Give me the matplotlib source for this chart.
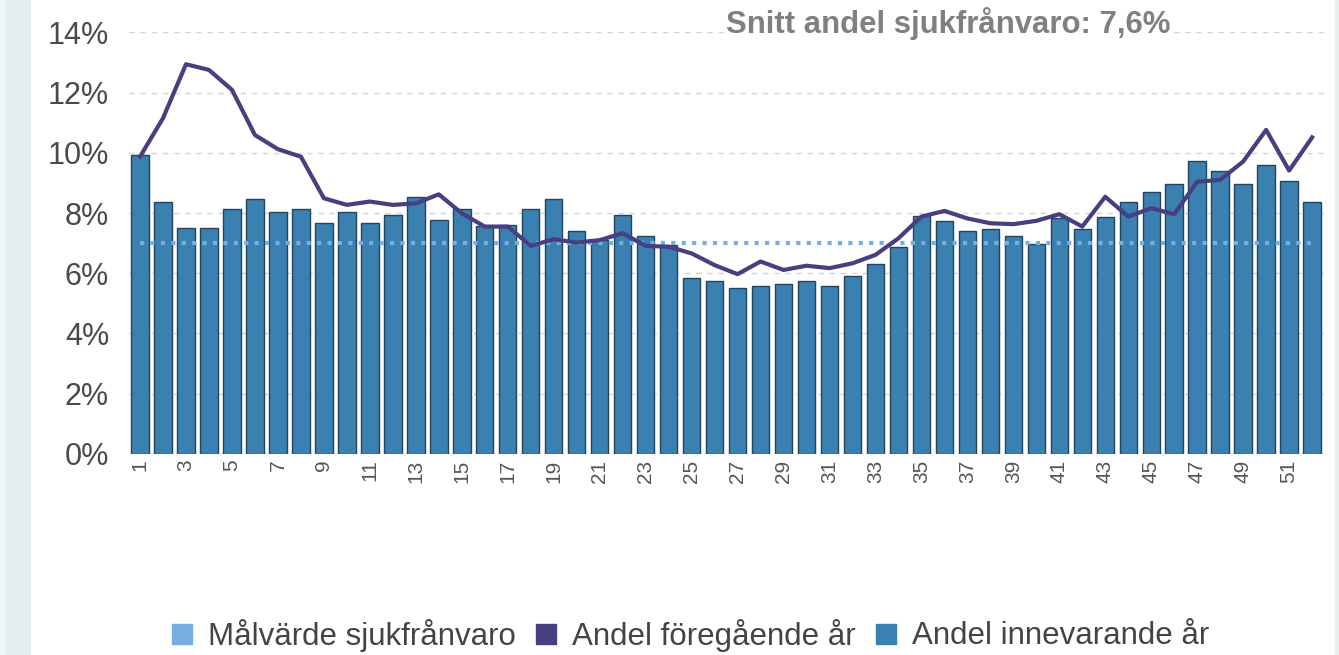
import matplotlib
matplotlib.use("Agg")
import matplotlib.pyplot as plt
from matplotlib.lines import Line2D
from matplotlib.patches import Rectangle

weeks = list(range(1, 53))
current_year = [9.93, 8.38, 7.49, 7.49, 8.12, 8.46, 8.05, 8.12, 7.68, 8.05,
                7.68, 7.94, 8.54, 7.77, 8.12, 7.57, 7.59, 8.12, 8.46, 7.41,
                7.10, 7.94, 7.24, 6.94, 5.85, 5.74, 5.50, 5.59, 5.65, 5.74,
                5.59, 5.91, 6.30, 6.88, 7.90, 7.75, 7.41, 7.48, 7.24, 6.96,
                7.82, 7.48, 7.86, 8.37, 8.71, 8.97, 9.74, 9.41, 8.97, 9.60,
                9.07, 8.37]
previous_year = [9.87, 11.15, 12.94, 12.75, 12.09, 10.59, 10.12, 9.87, 8.49, 8.27,
                 8.38, 8.27, 8.32, 8.62, 7.99, 7.55, 7.55, 6.91, 7.13, 7.02,
                 7.10, 7.33, 6.91, 6.88, 6.66, 6.27, 5.97, 6.39, 6.11, 6.25,
                 6.17, 6.33, 6.61, 7.16, 7.88, 8.07, 7.82, 7.66, 7.63, 7.74,
                 7.96, 7.55, 8.54, 7.88, 8.16, 7.96, 9.04, 9.10, 9.71, 10.76,
                 9.41, 10.51]
target = [7.0] * 52
yticks = [0, 2, 4, 6, 8, 10, 12, 14]
avg_text = "Snitt andel sjukfrånvaro: 7,6%"
legend_labels = ["Målvärde sjukfrånvaro", "Andel föregående år", "Andel innevarande år"]

c_target = "#78ade2"
c_prev = "#463f80"
c_cur = "#3a80b0"

plt.rcParams['font.family'] = ['Liberation Sans', 'DejaVu Sans']

fig = plt.figure(figsize=(13.39, 6.55), dpi=100)
fig.patch.set_facecolor("white")
# side strips of the surrounding page
fig.patches.append(Rectangle((0, 0), 6 / 1339, 1, transform=fig.transFigure, color="#eef6f6", zorder=0))
fig.patches.append(Rectangle((6 / 1339, 0), 24 / 1339, 1, transform=fig.transFigure, color="#e3eded", zorder=0))
fig.patches.append(Rectangle((1335 / 1339, 0), 4 / 1339, 1, transform=fig.transFigure, color="#e8f0f0", zorder=0))

ax = fig.add_axes([0.0960, 0.3069, 0.8925, 0.6438])
x = list(range(len(weeks)))

ax.bar(x, current_year, width=0.76, color=c_cur, edgecolor="#24445c", linewidth=1.0, zorder=2)
ax.plot(x, target, color=c_target, linestyle=(0, (1.0, 1.5)), linewidth=3, zorder=3)
ax.plot(x, previous_year, color=c_prev, linewidth=3, zorder=4, solid_joinstyle="round")

ax.set_xlim(-0.5, len(weeks) - 0.5)
ax.set_ylim(0, 14)
ax.set_yticks(yticks)
ax.set_yticklabels([f"{v}%" for v in yticks], fontsize=22, color="#4a4a4a")
ax.set_xticks(x[::2])
ax.set_xticklabels([str(w) for w in weeks[::2]], rotation=90, fontsize=15, color="#555555")
ax.tick_params(axis="y", length=0, pad=14)
ax.tick_params(axis="x", length=0, pad=4)
ax.grid(axis="y", color="#d4d4d4", linestyle=(0, (4, 4)), linewidth=1)
ax.set_axisbelow(True)
for s in ax.spines.values():
    s.set_visible(False)

fig.text(948 / 1339, 1 - 23 / 655, avg_text, ha="center", va="center", fontsize=22.4,
         fontweight="bold", color="#808080",
         bbox=dict(facecolor="white", edgecolor="none", pad=1))

handles = [Line2D([], [], marker="s", linestyle="none", markersize=14, color=c)
           for c in (c_target, c_prev, c_cur)]
fig.legend(handles, legend_labels, loc="center", bbox_to_anchor=(690 / 1339, 1 - 635 / 655),
           ncol=3, frameon=False, fontsize=22.5, labelcolor="#444444",
           handlelength=0.7, handletextpad=0.5, columnspacing=0.6)

fig.savefig("out.png", dpi=100)
